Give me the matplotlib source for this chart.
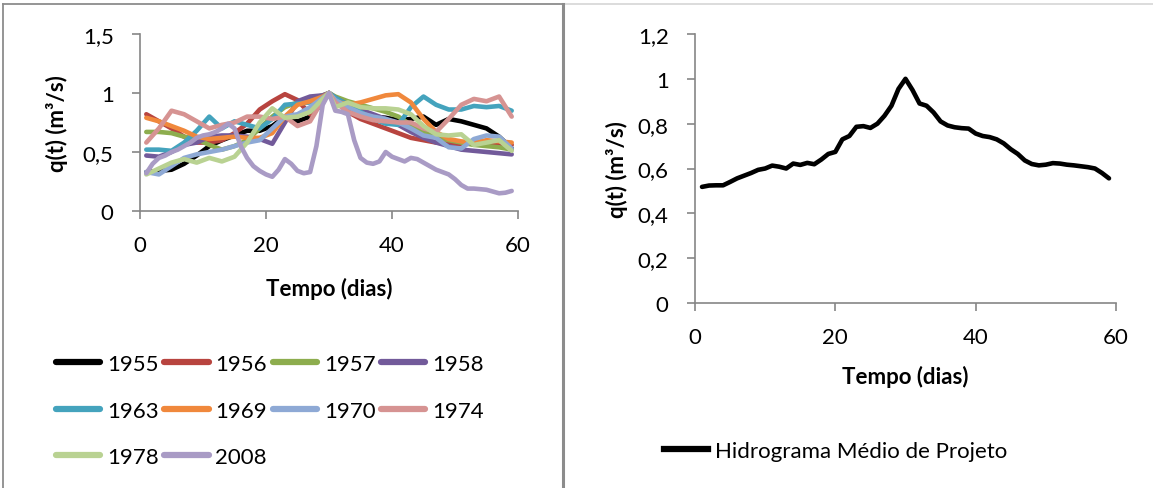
import numpy as np
import matplotlib.pyplot as plt
from matplotlib.lines import Line2D
from matplotlib.ticker import FuncFormatter

plt.rcParams["font.family"] = ["Lato", "DejaVu Sans"]

# days sampled for the individual years (30 included for the peak)
days = [1, 3, 5, 7, 9, 11, 13, 15, 17, 19, 21, 23, 25, 27, 29, 30,
        31, 33, 35, 37, 39, 41, 43, 45, 47, 49, 51, 53, 55, 57, 59]

q1955 = [0.33, 0.34, 0.35, 0.40, 0.47, 0.55, 0.60, 0.64, 0.68, 0.68, 0.72, 0.80, 0.76, 0.80, 0.92, 1.0,
         0.95, 0.88, 0.82, 0.80, 0.79, 0.77, 0.78, 0.80, 0.73, 0.78, 0.76, 0.73, 0.70, 0.63, 0.53]
q1956 = [0.82, 0.76, 0.70, 0.63, 0.58, 0.58, 0.60, 0.66, 0.74, 0.86, 0.93, 0.99, 0.94, 0.82, 0.95, 1.0,
         0.93, 0.84, 0.78, 0.74, 0.70, 0.66, 0.62, 0.60, 0.58, 0.57, 0.57, 0.57, 0.56, 0.57, 0.56]
q1957 = [0.67, 0.67, 0.66, 0.63, 0.61, 0.56, 0.52, 0.55, 0.60, 0.70, 0.80, 0.88, 0.92, 0.95, 0.98, 1.0,
         0.97, 0.93, 0.90, 0.87, 0.84, 0.80, 0.73, 0.67, 0.63, 0.60, 0.58, 0.56, 0.55, 0.54, 0.52]
q1958 = [0.47, 0.46, 0.50, 0.56, 0.58, 0.63, 0.64, 0.64, 0.63, 0.61, 0.57, 0.75, 0.93, 0.97, 0.98, 1.0,
         0.96, 0.90, 0.86, 0.82, 0.78, 0.73, 0.67, 0.62, 0.58, 0.55, 0.52, 0.51, 0.50, 0.49, 0.48]
q1963 = [0.52, 0.52, 0.51, 0.58, 0.68, 0.80, 0.70, 0.76, 0.73, 0.70, 0.78, 0.90, 0.91, 0.92, 0.96, 1.0,
         0.96, 0.90, 0.84, 0.78, 0.74, 0.73, 0.88, 0.97, 0.90, 0.86, 0.86, 0.89, 0.88, 0.89, 0.85]
q1969 = [0.79, 0.76, 0.72, 0.68, 0.63, 0.61, 0.62, 0.63, 0.62, 0.62, 0.66, 0.80, 0.90, 0.93, 0.97, 1.0,
         0.93, 0.90, 0.92, 0.95, 0.98, 0.99, 0.92, 0.78, 0.67, 0.61, 0.59, 0.58, 0.60, 0.59, 0.58]
q1970 = [0.33, 0.31, 0.38, 0.45, 0.48, 0.50, 0.52, 0.55, 0.58, 0.60, 0.70, 0.80, 0.82, 0.88, 0.96, 1.0,
         0.94, 0.88, 0.83, 0.80, 0.78, 0.75, 0.70, 0.64, 0.62, 0.54, 0.53, 0.61, 0.64, 0.63, 0.53]
q1974 = [0.58, 0.70, 0.85, 0.82, 0.76, 0.70, 0.73, 0.75, 0.80, 0.80, 0.78, 0.80, 0.72, 0.76, 0.94, 1.0,
         0.92, 0.84, 0.80, 0.77, 0.76, 0.75, 0.75, 0.70, 0.67, 0.78, 0.90, 0.95, 0.93, 0.97, 0.80]
q1978 = [0.31, 0.36, 0.41, 0.44, 0.41, 0.45, 0.42, 0.46, 0.58, 0.75, 0.87, 0.79, 0.80, 0.84, 0.95, 1.0,
         0.88, 0.92, 0.88, 0.87, 0.87, 0.86, 0.82, 0.72, 0.65, 0.64, 0.65, 0.56, 0.58, 0.60, 0.51]

# 2008 has sharp features, read day by day
days_2008 = list(range(1, 60))
q2008 = [0.32, 0.40, 0.45, 0.47, 0.50, 0.52, 0.55, 0.58, 0.62, 0.64, 0.65, 0.67, 0.70, 0.74, 0.70,
         0.55, 0.45, 0.38, 0.34, 0.31, 0.29, 0.35, 0.44, 0.40, 0.34, 0.32, 0.33, 0.55, 0.90, 1.0,
         0.85, 0.84, 0.82, 0.60, 0.45, 0.41, 0.40, 0.42, 0.50, 0.46, 0.44, 0.42, 0.45, 0.44, 0.41,
         0.38, 0.35, 0.33, 0.31, 0.27, 0.22, 0.19, 0.19, 0.185, 0.18, 0.165, 0.15, 0.155, 0.17]

years = ["1955", "1956", "1957", "1958", "1963", "1969", "1970", "1974", "1978", "2008"]
series = [q1955, q1956, q1957, q1958, q1963, q1969, q1970, q1974, q1978, q2008]
colors = ["#000000", "#B8443F", "#8DAD4E", "#725A9A", "#44A3BD", "#F0883C",
          "#8EA9D5", "#D69392", "#B9D292", "#A99BC5"]

# mean design hydrograph
days_mean = list(range(1, 60))
q_mean = [0.518, 0.524, 0.525, 0.525, 0.54, 0.556, 0.568, 0.58, 0.594, 0.60, 0.613, 0.608,
          0.60, 0.622, 0.616, 0.625, 0.619, 0.64, 0.665, 0.674, 0.73, 0.745, 0.786, 0.789,
          0.781, 0.80, 0.835, 0.88, 0.955, 1.0, 0.95, 0.89, 0.88, 0.85, 0.81, 0.792, 0.784,
          0.78, 0.778, 0.756, 0.745, 0.74, 0.73, 0.712, 0.686, 0.665, 0.636, 0.62, 0.614,
          0.617, 0.624, 0.622, 0.617, 0.614, 0.61, 0.606, 0.60, 0.58, 0.556]

AXIS_GRAY = "#868686"
FS = 16


def comma(v, pos):
    s = f"{v:g}"
    return s.replace(".", ",")


def style_axes(ax):
    for side in ["top", "right"]:
        ax.spines[side].set_visible(False)
    for side in ["left", "bottom"]:
        ax.spines[side].set_color(AXIS_GRAY)
        ax.spines[side].set_linewidth(1.2)
    ax.tick_params(axis="both", colors=AXIS_GRAY, labelcolor="black", labelsize=FS,
                   length=6, width=1.2, direction="out")
    ax.tick_params(axis="x", pad=11)
    ax.tick_params(axis="y", pad=13)
    ax.set_xlim(0, 60)
    ax.set_xticks([0, 20, 40, 60])
    ax.yaxis.set_major_formatter(FuncFormatter(comma))
    ax.set_xlabel("Tempo (dias)", fontsize=FS, fontweight="bold")
    ax.set_ylabel("q(t) (m³/s)", fontsize=FS, fontweight="bold")


fig = plt.figure(figsize=(11.53, 4.89), dpi=100)

# left panel: individual years
ax1 = fig.add_axes([140 / 1153, 1 - 212 / 489, 378 / 1153, 177 / 489])
for i, (yr, q, c) in enumerate(zip(years, series, colors)):
    x = days_2008 if yr == "2008" else days
    ax1.plot(x, q, color=c, lw=3.3, solid_capstyle="round", solid_joinstyle="round",
             label=yr, zorder=2 + i * 0.01)
ax1.set_ylim(0, 1.5)
ax1.set_yticks([0, 0.5, 1, 1.5])
style_axes(ax1)
ax1.yaxis.set_label_coords(-0.19, 0.5)
ax1.xaxis.set_label_coords(0.5, -0.37)

# legend laid out row by row like the original (matplotlib fills columns)
order = [0, 4, 8, 1, 5, 9, 2, 6, 3, 7]
handles = [Line2D([], [], color=colors[k], lw=4.5, solid_capstyle="round") for k in order]
labels = [years[k] for k in order]
fig.legend(handles, labels, loc="upper left", bbox_to_anchor=(47 / 1153, 1 - 346 / 489),
           ncol=4, frameon=False, fontsize=FS, handlelength=2.0, handletextpad=0.3,
           columnspacing=0.25, labelspacing=1.2, borderaxespad=0)

# right panel: mean design hydrograph
ax2 = fig.add_axes([695 / 1153, 1 - 304 / 489, 421 / 1153, 269 / 489])
ax2.plot(days_mean, q_mean, color="black", lw=3.3, solid_capstyle="round",
         solid_joinstyle="round")
ax2.set_ylim(0, 1.2)
ax2.set_yticks([0, 0.2, 0.4, 0.6, 0.8, 1.0, 1.2])
style_axes(ax2)
ax2.yaxis.set_label_coords(-0.16, 0.5)
ax2.xaxis.set_label_coords(0.5, -0.23)

h2 = [Line2D([], [], color="black", lw=4.5)]
fig.legend(h2, ["Hidrograma Médio de Projeto"], loc="center left",
           bbox_to_anchor=(655 / 1153, 1 - 452 / 489), frameon=False, fontsize=FS,
           handlelength=2.0, handletextpad=0.3, borderaxespad=0)

# panel borders
fig.add_artist(Line2D([3 / 1153, 563 / 1153], [1 - 4.5 / 489] * 2, color="#8C8C8C", lw=1.3))
fig.add_artist(Line2D([563 / 1153, 1.0], [1 - 5 / 489] * 2, color="#D9D9D9", lw=1.3))
fig.add_artist(Line2D([3 / 1153] * 2, [0, 1 - 4.5 / 489], color="#8C8C8C", lw=1.3))
fig.add_artist(Line2D([562.5 / 1153] * 2, [0, 1 - 4.5 / 489], color="#8C8C8C", lw=2.2))

fig.savefig("out.png", dpi=100)
